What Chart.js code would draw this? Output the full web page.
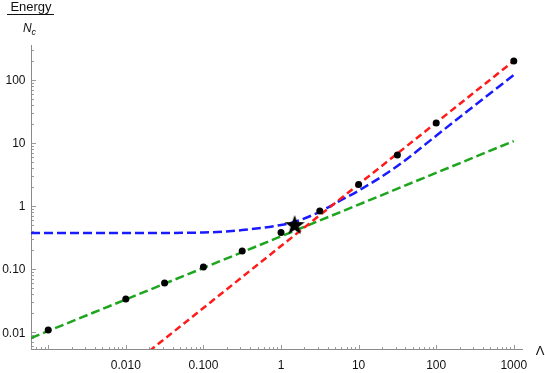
<!DOCTYPE html>
<html>
<head>
<meta charset="utf-8">
<script src="https://cdn.jsdelivr.net/npm/chart.js@4.4.1/dist/chart.umd.min.js"></script>
<style>
  html, body { margin: 0; padding: 0; background: #fff; }
  #wrap { width: 545px; height: 373px; position: relative; }
</style>
</head>
<body>
<div id="wrap"><canvas id="c" width="545" height="373" style="width:545px;height:373px"></canvas></div>
<script>
// ---- data ----
const dotLambda = [0.001, 0.01, 0.0316, 0.1, 0.316, 1, 3.16, 10, 31.6, 100, 1000];
const dotEnergy = [0.0108, 0.0336, 0.0602, 0.108, 0.194, 0.380, 0.833, 2.19, 6.43, 20.7, 199];

const blueLambda = [0.0006, 0.01, 0.1, 0.316, 1, 1.5, 3.16, 6, 10, 31.6, 100, 316, 1000];
const blueEnergy = [0.372, 0.373, 0.38, 0.415, 0.50, 0.56, 0.81, 1.25, 1.75, 4.3, 13.0, 39.5, 119];

const greenLambda = [0.0006, 1, 1000];
const greenEnergy = [0.0081, 0.33, 10.7];

const redLambda = [0.02, 1, 1000];
const redEnergy = [0.005, 0.232, 199];

const starLambda = [1.5];
const starEnergy = [0.50];

const xTickValues = [0.01, 0.1, 1, 10, 100, 1000];
const xTickLabels = ['0.010', '0.100', '1', '10', '100', '1000'];
const yTickValues = [0.01, 0.1, 1, 10, 100];
const yTickLabels = ['0.01', '0.10', '1', '10', '100'];

const xMin = 0.0006, xMax = 1314;
const yMin = 0.00542, yMax = 356;

function pts(xs, ys) { return xs.map((x, i) => ({ x: x, y: ys[i] })); }

// filled star image for point style
const starImg = document.createElement('canvas');
starImg.width = 24; starImg.height = 24;
(function () {
  const g = starImg.getContext('2d');
  g.fillStyle = '#000';
  g.beginPath();
  const cx = 12, cy = 12.5, R = 10.5, r = 4.3;
  for (let i = 0; i < 10; i++) {
    const ang = -Math.PI / 2 + i * Math.PI / 5;
    const rad = i % 2 === 0 ? R : r;
    const px = cx + rad * Math.cos(ang), py = cy + rad * Math.sin(ang);
    if (i === 0) g.moveTo(px, py); else g.lineTo(px, py);
  }
  g.closePath();
  g.fill();
})();

const axesPlugin = {
  id: 'mmaAxes',
  beforeDatasetsDraw(chart) {
    const ctx = chart.ctx, xs = chart.scales.x, ys = chart.scales.y, a = chart.chartArea;
    const axY = Math.round(a.bottom) + 0.5;
    const axX = Math.round(a.left) + 0.5;
    ctx.save();
    ctx.strokeStyle = '#8a8a8a';
    ctx.lineWidth = 1;
    ctx.beginPath();
    ctx.moveTo(a.left, axY); ctx.lineTo(a.right, axY);
    ctx.moveTo(axX, a.top); ctx.lineTo(axX, a.bottom + 1);
    ctx.stroke();
    // ticks
    ctx.strokeStyle = '#9a9a9a';
    ctx.beginPath();
    for (let d = -5; d <= 4; d++) {
      for (let m = 1; m <= 9; m++) {
        const v = m * Math.pow(10, d);
        const len = m === 1 ? 4.5 : 2.5;
        if (v >= xMin && v <= xMax) {
          const px = Math.round(xs.getPixelForValue(v)) + 0.5;
          ctx.moveTo(px, axY); ctx.lineTo(px, axY - len);
        }
        if (v >= yMin && v <= yMax) {
          const py = Math.round(ys.getPixelForValue(v)) + 0.5;
          ctx.moveTo(axX, py); ctx.lineTo(axX + len, py);
        }
      }
    }
    ctx.stroke();
    // labels
    ctx.fillStyle = '#111';
    ctx.font = '12px "Liberation Sans", Arial, sans-serif';
    ctx.textAlign = 'center';
    ctx.textBaseline = 'alphabetic';
    xTickValues.forEach((v, i) => {
      ctx.fillText(xTickLabels[i], xs.getPixelForValue(v), axY + 19);
    });
    ctx.textAlign = 'right';
    yTickValues.forEach((v, i) => {
      ctx.fillText(yTickLabels[i], axX - 6, ys.getPixelForValue(v) + 4.3);
    });
    // axis titles
    ctx.textAlign = 'center';
    ctx.font = '13px "Liberation Sans", Arial, sans-serif';
    ctx.fillText('\u039B', 540, 355);
    ctx.fillText('Energy', 31, 11);
    ctx.strokeStyle = '#111';
    ctx.beginPath();
    ctx.moveTo(7, 14.5); ctx.lineTo(54, 14.5);
    ctx.stroke();
    ctx.textAlign = 'left';
    ctx.font = 'italic 12px "Liberation Sans", Arial, sans-serif';
    ctx.fillText('N', 23, 32);
    ctx.font = 'italic 9px "Liberation Sans", Arial, sans-serif';
    ctx.fillText('c', 31.5, 35);
    ctx.restore();
  }
};

new Chart(document.getElementById('c'), {
  type: 'scatter',
  data: {
    datasets: [
      { label: 'star', data: pts(starLambda, starEnergy), pointStyle: starImg, pointRadius: 10, showLine: false, order: 0 },
      { label: 'dots', data: pts(dotLambda, dotEnergy), pointRadius: 3.5, pointBackgroundColor: '#000', pointBorderWidth: 0, showLine: false, order: 1 },
      { label: 'red', data: pts(redLambda, redEnergy), showLine: true, borderColor: '#ff1a1a', borderWidth: 2.5, borderDash: [7, 4], pointRadius: 0, tension: 0, order: 2 },
      { label: 'blue', data: pts(blueLambda, blueEnergy), showLine: true, borderColor: '#1a1aff', borderWidth: 2.5, borderDash: [9, 4], pointRadius: 0, cubicInterpolationMode: 'monotone', order: 3 },
      { label: 'green', data: pts(greenLambda, greenEnergy), showLine: true, borderColor: '#1ea51e', borderWidth: 2.5, borderDash: [9, 4], pointRadius: 0, tension: 0, order: 4 }
    ]
  },
  options: {
    responsive: false,
    animation: false,
    devicePixelRatio: 1,
    layout: { padding: { left: 31, right: 22, top: 45, bottom: 24 } },
    plugins: { legend: { display: false }, tooltip: { enabled: false } },
    scales: {
      x: { type: 'logarithmic', min: xMin, max: xMax, display: false, bounds: 'data' },
      y: { type: 'logarithmic', min: yMin, max: yMax, display: false, bounds: 'data' }
    }
  },
  plugins: [axesPlugin]
});
</script>
</body>
</html>
